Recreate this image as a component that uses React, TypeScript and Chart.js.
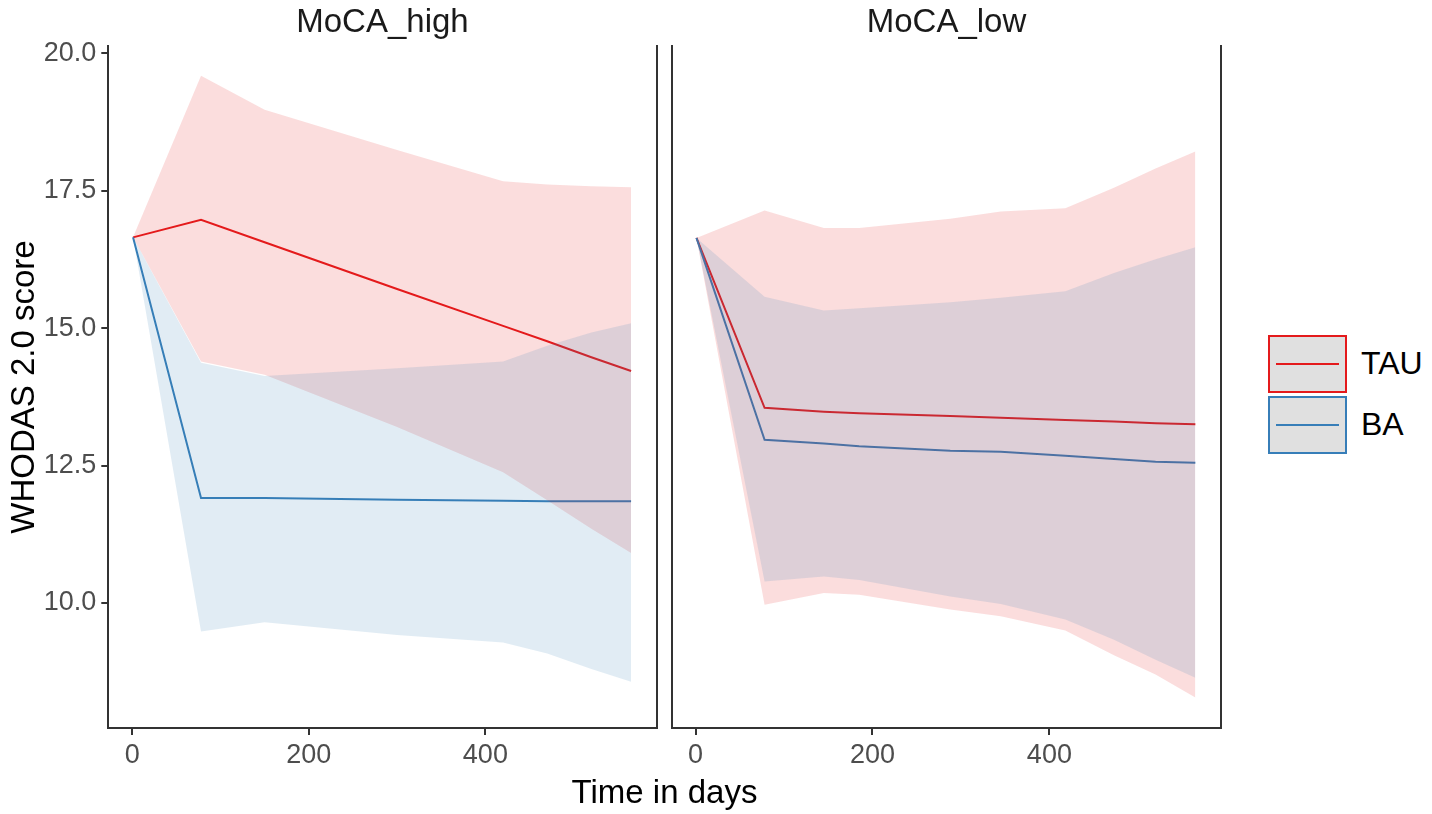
import React, { useEffect, useRef } from 'react';
import { Chart, registerables } from 'chart.js';

Chart.register(...registerables);
Chart.defaults.font.family = "'Liberation Sans', Arial, sans-serif";

// ---- data ----
const xTicks = [0, 200, 400];
const xTickLabels = ['0', '200', '400'];
const yTicks = [10, 12.5, 15, 17.5, 20];
const yTickLabels = ['10.0', '12.5', '15.0', '17.5', '20.0'];
const panelTitles = ['MoCA_high', 'MoCA_low'];
const groupNames = ['TAU', 'BA'];
const xAxisTitle = 'Time in days';
const yAxisTitle = 'WHODAS 2.0 score';

const highDays = [1, 78, 150, 300, 420, 470, 520, 565];
const highTauMean = [16.65, 16.97, 16.56, 15.71, 15.04, 14.76, 14.47, 14.22];
const highTauUpper = [16.65, 19.59, 18.97, 18.24, 17.67, 17.61, 17.58, 17.56];
const highTauLower = [16.65, 14.39, 14.15, 13.2, 12.38, 11.87, 11.35, 10.91];
const highBaMean = [16.65, 11.91, 11.91, 11.88, 11.86, 11.85, 11.85, 11.85];
const highBaUpper = [16.65, 14.37, 14.13, 14.27, 14.39, 14.68, 14.92, 15.09];
const highBaLower = [16.65, 9.48, 9.65, 9.42, 9.28, 9.08, 8.8, 8.57];

const lowDays = [1, 78, 145, 185, 288, 345, 418, 473, 520, 565];
const lowTauMean = [16.64, 13.55, 13.48, 13.45, 13.4, 13.37, 13.33, 13.3, 13.27, 13.25];
const lowTauUpper = [16.64, 17.14, 16.82, 16.82, 16.99, 17.12, 17.18, 17.55, 17.9, 18.21];
const lowTauLower = [16.64, 9.97, 10.18, 10.15, 9.88, 9.76, 9.5, 9.05, 8.7, 8.28];
const lowBaMean = [16.64, 12.97, 12.9, 12.85, 12.77, 12.75, 12.68, 12.62, 12.57, 12.55];
const lowBaUpper = [16.64, 15.57, 15.32, 15.36, 15.47, 15.55, 15.67, 16.0, 16.25, 16.47];
const lowBaLower = [16.64, 10.39, 10.48, 10.42, 10.12, 9.98, 9.7, 9.33, 8.97, 8.64];

// ---- styling ----
const RED = '#E41A1C';
const BLUE = '#377EB8';
const RED_FILL = 'rgba(228,26,28,0.15)';
const BLUE_FILL = 'rgba(55,126,184,0.15)';
const AXIS = '#333333';
const TICK_TEXT = '#4D4D4D';
const X_MIN = -27;
const X_MAX = 594;
const Y_MIN = 7.727;
const Y_MAX = 20.13;

function xy(days: number[], vals: number[]) {
  return days.map((d, i) => ({ x: d, y: vals[i] }));
}

function makeConfig(
  days: number[],
  tauMean: number[], tauUpper: number[], tauLower: number[],
  baMean: number[], baUpper: number[], baLower: number[],
  isLeft: boolean
): any {
  const lineBase = { pointRadius: 0, tension: 0, fill: false };
  const ribbonBase = { pointRadius: 0, tension: 0, borderWidth: 0, borderColor: 'transparent' };
  return {
    type: 'line',
    data: {
      datasets: [
        { ...lineBase, label: groupNames[0], data: xy(days, tauMean), borderColor: RED, borderWidth: 2, order: 6 },
        { ...lineBase, label: groupNames[1], data: xy(days, baMean), borderColor: BLUE, borderWidth: 2, order: 5 },
        { ...ribbonBase, label: 'tauU', data: xy(days, tauUpper), backgroundColor: RED_FILL, fill: '+1', order: 4 },
        { ...ribbonBase, label: 'tauL', data: xy(days, tauLower), fill: false, order: 3 },
        { ...ribbonBase, label: 'baU', data: xy(days, baUpper), backgroundColor: BLUE_FILL, fill: '+1', order: 2 },
        { ...ribbonBase, label: 'baL', data: xy(days, baLower), fill: false, order: 1 },
      ],
    },
    options: {
      animation: false,
      responsive: true,
      maintainAspectRatio: false,
      parsing: false,
      layout: {
        padding: isLeft
          ? { left: 0, top: 46, right: 3.3, bottom: 26 }
          : { left: 11.7, top: 46, right: 19, bottom: 26 },
      },
      plugins: { legend: { display: false }, tooltip: { enabled: false }, title: { display: false } },
      scales: {
        x: {
          type: 'linear',
          min: X_MIN,
          max: X_MAX,
          afterBuildTicks: (s: any) => { s.ticks = xTicks.map((v) => ({ value: v })); },
          afterFit: (s: any) => { s.height = 60; },
          ticks: {
            callback: (_v: any, i: number) => xTickLabels[i],
            color: TICK_TEXT,
            font: { size: 27 },
            padding: 4,
            maxRotation: 0,
            autoSkip: false,
          },
          grid: { display: true, drawOnChartArea: false, drawTicks: true, tickLength: 7, color: AXIS, lineWidth: 2 },
          border: { display: true, color: AXIS, width: 2 },
        },
        y: {
          type: 'linear',
          position: 'left',
          min: Y_MIN,
          max: Y_MAX,
          afterBuildTicks: (s: any) => { s.ticks = yTicks.map((v) => ({ value: v })); },
          afterFit: (s: any) => { s.width = isLeft ? 108.3 : 0; },
          ticks: {
            display: isLeft,
            callback: (_v: any, i: number) => yTickLabels[i],
            color: TICK_TEXT,
            font: { size: 27 },
            padding: 5,
          },
          grid: { display: true, drawOnChartArea: false, drawTicks: isLeft, tickLength: 7, color: AXIS, lineWidth: 2 },
          border: { display: true, color: AXIS, width: 2 },
          title: {
            display: isLeft,
            text: yAxisTitle,
            color: '#000000',
            font: { size: 33 },
            padding: { top: 5, bottom: 0 },
          },
        },
        y2: {
          type: 'linear',
          position: 'right',
          min: Y_MIN,
          max: Y_MAX,
          afterFit: (s: any) => { s.width = 0; },
          ticks: { display: false },
          grid: { display: true, drawOnChartArea: false, drawTicks: false },
          border: { display: true, color: AXIS, width: 2 },
        },
      },
    },
  };
}

function Panel({ build, style }: { build: () => any; style: React.CSSProperties }) {
  const ref = useRef<HTMLCanvasElement>(null);
  useEffect(() => {
    const chart = new Chart(ref.current as HTMLCanvasElement, build());
    return () => chart.destroy();
  }, []);
  return (
    <div style={{ position: 'absolute', ...style }}>
      <canvas ref={ref} />
    </div>
  );
}

const legendColors = [RED, BLUE];
const textFont = "'Liberation Sans', Arial, sans-serif";

export default function App() {
  return (
    <div
      style={{
        position: 'absolute',
        left: 0,
        top: 0,
        width: 1432,
        height: 814,
        background: '#ffffff',
        overflow: 'hidden',
        fontFamily: textFont,
      }}
    >
      <Panel
        style={{ left: 0, top: 0, width: 660, height: 814 }}
        build={() =>
          makeConfig(highDays, highTauMean, highTauUpper, highTauLower, highBaMean, highBaUpper, highBaLower, true)
        }
      />
      <Panel
        style={{ left: 660, top: 0, width: 580, height: 814 }}
        build={() =>
          makeConfig(lowDays, lowTauMean, lowTauUpper, lowTauLower, lowBaMean, lowBaUpper, lowBaLower, false)
        }
      />
      {/* strip titles */}
      <div style={{ position: 'absolute', left: 108, width: 549, top: 0, height: 42, lineHeight: '42px', textAlign: 'center', fontSize: 33, color: '#1A1A1A' }}>
        {panelTitles[0]}
      </div>
      <div style={{ position: 'absolute', left: 672, width: 549, top: 0, height: 42, lineHeight: '42px', textAlign: 'center', fontSize: 33, color: '#1A1A1A' }}>
        {panelTitles[1]}
      </div>
      {/* x axis title */}
      <div style={{ position: 'absolute', left: 108, width: 1113, top: 772, height: 40, lineHeight: '40px', textAlign: 'center', fontSize: 33, color: '#000' }}>
        {xAxisTitle}
      </div>
      {/* legend */}
      {groupNames.map((g, i) => (
        <React.Fragment key={g}>
          <div
            style={{
              position: 'absolute',
              left: 1268,
              top: 335 + i * 61,
              width: 79,
              height: 58,
              boxSizing: 'border-box',
              border: `2px solid ${legendColors[i]}`,
              background: '#E0E0E0',
            }}
          >
            <div style={{ position: 'absolute', left: 6, right: 6, top: 26, height: 2, background: legendColors[i] }} />
          </div>
          <div
            style={{
              position: 'absolute',
              left: 1361,
              top: 343 + i * 61,
              height: 40,
              lineHeight: '40px',
              fontSize: 32,
              color: '#000',
            }}
          >
            {g}
          </div>
        </React.Fragment>
      ))}
    </div>
  );
}
